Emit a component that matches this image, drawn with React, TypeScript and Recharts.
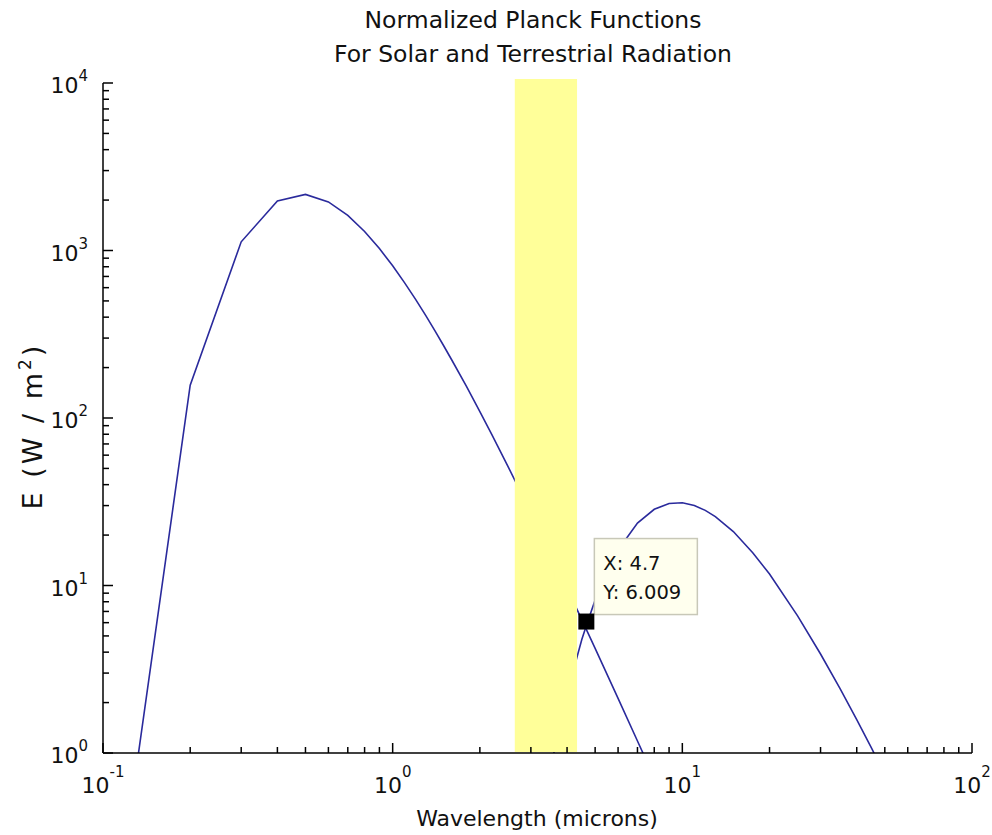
import React from "react";
import {
  ComposedChart,
  Line,
  XAxis,
  YAxis,
  ReferenceArea,
  ReferenceDot,
  Customized,
} from "recharts";

const FONT = "'DejaVu Sans', sans-serif";
const LINE = "#2a2a9c";

// solar curve (normalized, W/m2 per micron)
const solarWl = [0.1, 0.2, 0.3, 0.4, 0.5, 0.6, 0.7, 0.8, 0.9, 1.0, 1.1, 1.2, 1.3, 1.4, 1.5, 1.6, 1.8, 2.0, 2.2, 2.5, 3.0, 3.5, 4.0, 4.5, 5.0, 6.0, 7.0, 8.0];
const solarE = [0.031, 157, 1127, 1976, 2161, 1950, 1621, 1299, 1027, 810, 641, 511, 410, 331, 270, 222, 154, 109, 79.6, 51.5, 27.2, 15.7, 9.64, 6.24, 4.21, 2.12, 1.18, 0.71];

// terrestrial curve
const terrWl = [3.5, 4, 4.5, 4.7, 5, 6, 7, 8, 9, 10, 11, 12, 13, 15, 17.5, 20, 25, 30, 35, 40, 45, 50];
const terrE = [0.8, 2.27, 4.77, 6.009, 8.18, 16.3, 23.6, 28.5, 30.9, 31.2, 30.0, 28.1, 25.8, 21.0, 15.7, 11.7, 6.59, 3.9, 2.43, 1.58, 1.07, 0.74];

// highlighted band and data cursor
const bandX = [2.64, 4.33];
const bandY = [1.014, 10570];
const cursorX = 4.7;
const cursorY = 6.009;
const cursorText = ["X: 4.7", "Y: 6.009"];

const xTicks = [
  0.1, 0.2, 0.3, 0.4, 0.5, 0.6, 0.7, 0.8, 0.9,
  1, 2, 3, 4, 5, 6, 7, 8, 9,
  10, 20, 30, 40, 50, 60, 70, 80, 90, 100,
];
const xMajor = [0.1, 1, 10, 100];
const xExp = ["-1", "0", "1", "2"];

const yTicks = [
  1, 2, 3, 4, 5, 6, 7, 8, 9,
  10, 20, 30, 40, 50, 60, 70, 80, 90,
  100, 200, 300, 400, 500, 600, 700, 800, 900,
  1000, 2000, 3000, 4000, 5000, 6000, 7000, 8000, 9000, 10000,
];
const yMajor = [1, 10, 100, 1000, 10000];
const yExp = ["0", "1", "2", "3", "4"];

const solarData = solarWl.map((wl, i) => ({ wl, e: solarE[i] }));
const terrData = terrWl.map((wl, i) => ({ wl, e: terrE[i] }));

const XTick = (props: any) => {
  const { x, y, payload } = props;
  const i = xMajor.indexOf(payload.value);
  const major = i >= 0;
  return (
    <g>
      <line x1={x} x2={x} y1={y} y2={y - (major ? 10 : 6)} stroke="#000" strokeWidth={1.5} />
      {major && (
        <text x={x} y={y + 40} textAnchor="middle" fontFamily={FONT} fontSize={22} fill="#111">
          10
          <tspan dy={-16} fontSize={15}>
            {xExp[i]}
          </tspan>
        </text>
      )}
    </g>
  );
};

const YTick = (props: any) => {
  const { x, y, payload } = props;
  const i = yMajor.indexOf(payload.value);
  const major = i >= 0;
  return (
    <g>
      <line x1={x} x2={x + (major ? 10 : 6)} y1={y} y2={y} stroke="#000" strokeWidth={1.5} />
      {major && (
        <text x={x - 15} y={y + 10} textAnchor="end" fontFamily={FONT} fontSize={22} fill="#111">
          10
          <tspan dy={-12} fontSize={15}>
            {yExp[i]}
          </tspan>
        </text>
      )}
    </g>
  );
};

const Cursor = (props: any) => {
  const { cx, cy } = props;
  const bx = cx + 7;
  const by = cy - 84;
  return (
    <g>
      <rect x={bx} y={by} width={103} height={76} fill="#ffffee" stroke="#c8c8b8" strokeWidth={1.5} />
      <text x={bx + 9} y={by + 31} fontFamily={FONT} fontSize={19.5} fill="#111">
        {cursorText[0]}
      </text>
      <text x={bx + 9} y={by + 60} fontFamily={FONT} fontSize={19.5} fill="#111">
        {cursorText[1]}
      </text>
      <rect x={cx - 9} y={cy - 9} width={16} height={16} fill="#000" />
    </g>
  );
};

const Texts = () => (
  <g fontFamily={FONT} fill="#111">
    <text x={533} y={28} textAnchor="middle" fontSize={23.5}>
      Normalized Planck Functions
    </text>
    <text x={533} y={62} textAnchor="middle" fontSize={23.5}>
      For Solar and Terrestrial Radiation
    </text>
    <text x={537} y={826} textAnchor="middle" fontSize={22}>
      Wavelength (microns)
    </text>
    <text
      x={42}
      y={426}
      textAnchor="middle"
      fontSize={27}
      letterSpacing={3}
      transform="rotate(-90, 42, 426)"
    >
      E (W / m
      <tspan dy={-11} fontSize={17}>
        2
      </tspan>
      <tspan dy={11}>)</tspan>
    </text>
  </g>
);

export default function App() {
  return (
    <div style={{ position: "absolute", left: 0, top: 0, background: "#fff" }}>
      <ComposedChart
        width={992}
        height={835}
        margin={{ top: 83, right: 20, bottom: 0, left: 0 }}
      >
        <XAxis
          dataKey="wl"
          type="number"
          scale="log"
          domain={[0.1, 100]}
          allowDataOverflow
          ticks={xTicks}
          interval={0}
          tick={<XTick />}
          tickLine={false}
          tickSize={0}
          tickMargin={0}
          height={82}
          axisLine={{ stroke: "#000", strokeWidth: 1.5 }}
        />
        <YAxis
          type="number"
          scale="log"
          domain={[1, 10000]}
          allowDataOverflow
          ticks={yTicks}
          interval={0}
          tick={<YTick />}
          tickLine={false}
          tickSize={0}
          tickMargin={0}
          width={103}
          axisLine={{ stroke: "#000", strokeWidth: 1.5 }}
        />
        <Line
          data={solarData}
          dataKey="e"
          type="linear"
          stroke={LINE}
          strokeWidth={1.6}
          dot={false}
          activeDot={false}
          isAnimationActive={false}
        />
        <Line
          data={terrData}
          dataKey="e"
          type="linear"
          stroke={LINE}
          strokeWidth={1.6}
          dot={false}
          activeDot={false}
          isAnimationActive={false}
        />
        <ReferenceArea
          x1={bandX[0]}
          x2={bandX[1]}
          y1={bandY[0]}
          y2={bandY[1]}
          fill="#ffff99"
          fillOpacity={1}
          stroke="none"
          ifOverflow="visible"
          zIndex={600}
        />
        <ReferenceDot
          x={cursorX}
          y={cursorY}
          r={8}
          ifOverflow="visible"
          shape={<Cursor />}
          zIndex={700}
        />
        <Customized component={<Texts />} />
      </ComposedChart>
    </div>
  );
}
